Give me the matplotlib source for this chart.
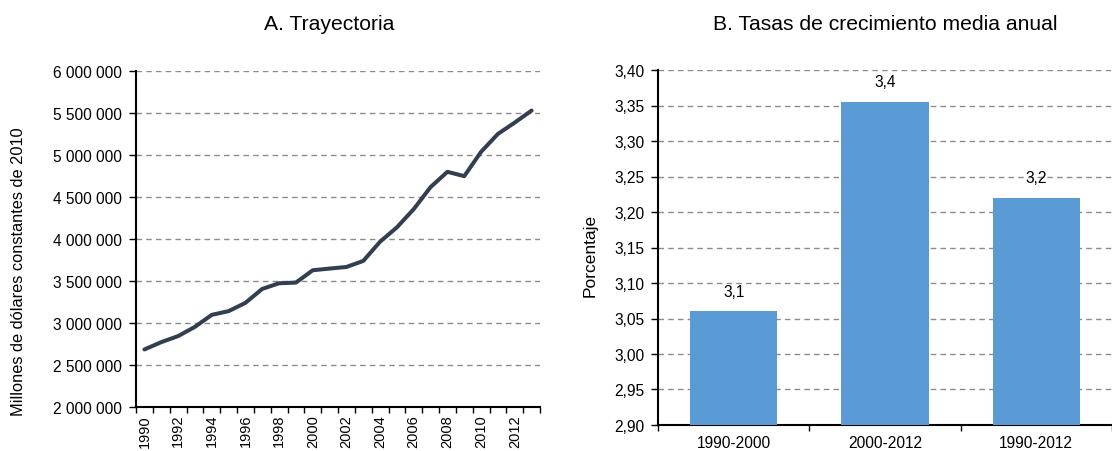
import matplotlib
matplotlib.use("Agg")
import matplotlib.pyplot as plt
from matplotlib.ticker import FuncFormatter, FixedLocator
import numpy as np

plt.rcParams['font.family'] = ['Liberation Sans', 'DejaVu Sans']

years = list(range(1990, 2014))
gdp = [2685000, 2772000, 2844000, 2954000, 3097000, 3141000, 3240000, 3406000,
       3473000, 3481000, 3628000, 3648000, 3667000, 3739000, 3968000, 4139000,
       4356000, 4618000, 4800000, 4748000, 5038000, 5251000, 5386000, 5529000]

periods = ["1990-2000", "2000-2012", "1990-2012"]
rates = [3.06, 3.355, 3.22]
rate_labels = ["3,1", "3,4", "3,2"]

W, H = 1112, 452
fig = plt.figure(figsize=(W/100, H/100), dpi=100)

grid_kw = dict(color='#8c8c8c', linestyle=(0, (4, 3)), linewidth=1.0)
fs = 11.2
title_fs = 15.2

# Panel A
ax1 = fig.add_axes([136/W, 1-408/H, 404/W, 336/H])
x = np.arange(len(years))
ax1.plot(x, gdp, color='#333f50', linewidth=2.9, solid_capstyle='round', solid_joinstyle='round', zorder=3)
ax1.set_xlim(-0.5, len(years) - 0.5)
ax1.set_ylim(2000000, 6000000)
ax1.set_yticks(np.arange(2000000, 6000001, 500000))
ax1.yaxis.set_major_formatter(FuncFormatter(lambda v, p: f"{int(v):,}".replace(",", " ")))
ax1.set_xticks(x[::2])
ax1.set_xticklabels([str(y) for y in years[::2]], rotation=90)
ax1.xaxis.set_minor_locator(FixedLocator(np.arange(-0.5, len(years), 1.0)))
ax1.tick_params(axis='x', which='major', length=0, labelsize=10.5, pad=5)
ax1.tick_params(axis='x', which='minor', length=4, width=1)
ax1.tick_params(axis='y', length=5, width=1, labelsize=fs, pad=5)
ax1.yaxis.grid(True, **grid_kw)
ax1.set_axisbelow(True)
for s in ['top', 'right']:
    ax1.spines[s].set_visible(False)
for s in ['left', 'bottom']:
    ax1.spines[s].set_linewidth(1.5)
ax1.set_ylabel("Millones de dólares constantes de 2010", fontsize=11.8)
ax1.yaxis.set_label_coords((26-136)/404, (408-272)/336)
fig.text(329/W, 1-24/H, "A. Trayectoria", fontsize=title_fs, ha='center', va='center')

# Panel B
ax2 = fig.add_axes([658/W, 1-426/H, 454/W, 355/H])
xb = np.arange(len(periods))
bars = ax2.bar(xb, rates, width=0.575, color='#5b9bd5', zorder=3)
ax2.set_xlim(-0.5, len(periods) - 0.5)
ax2.set_ylim(2.90, 3.40)
ax2.set_yticks(np.round(np.arange(2.90, 3.401, 0.05), 2))
ax2.yaxis.set_major_formatter(FuncFormatter(lambda v, p: f"{v:.2f}".replace(".", ",")))
ax2.set_xticks(xb)
ax2.set_xticklabels(periods)
ax2.xaxis.set_minor_locator(FixedLocator(np.arange(-0.5, len(periods), 1.0)))
ax2.tick_params(axis='x', which='major', length=0, labelsize=fs, pad=7)
ax2.tick_params(axis='x', which='minor', length=4, width=1)
ax2.tick_params(axis='y', length=5, width=1, labelsize=fs, pad=5)
ax2.yaxis.grid(True, **grid_kw)
ax2.set_axisbelow(True)
for s in ['top', 'right']:
    ax2.spines[s].set_visible(False)
for s in ['left', 'bottom']:
    ax2.spines[s].set_linewidth(1.5)
for b, lab in zip(bars, rate_labels):
    ax2.annotate(lab, (b.get_x() + b.get_width()/2, b.get_height()),
                 xytext=(0, 14.4), textcoords='offset points', ha='center', va='center', fontsize=fs)
ax2.set_ylabel("Porcentaje", fontsize=12.5)
ax2.yaxis.set_label_coords((598-658)/454, (426-255)/355)
fig.text(885/W, 1-24/H, "B. Tasas de crecimiento media anual", fontsize=title_fs, ha='center', va='center')

fig.savefig("out.png", dpi=100)
